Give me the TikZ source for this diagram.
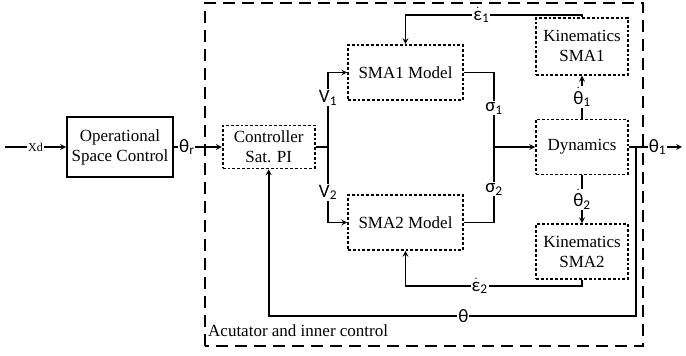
\documentclass[tikz,border=0pt]{standalone}
\usepackage{amsmath}
\usepackage{fontspec}
\setmainfont{Liberation Serif}
\newfontfamily\lblfont{Carlito}
\usetikzlibrary{arrows,positioning}
\newcommand{\dotlbl}[1]{$\dot{\text{\lblfont #1}}$}

\begin{document}
\begin{tikzpicture}[
    x=1pt, y=1pt,
    node distance=40pt,
    box/.style={rectangle, draw, line width=1.6pt, dash pattern=on 2.8pt off 2pt, inner sep=0pt, align=center, font=\fontsize{17}{20}\selectfont},
    solidbox/.style={rectangle, draw, line width=1.8pt, inner sep=0pt, align=center, font=\fontsize{17}{20}\selectfont},
    lbl/.style={fill=white, inner sep=1pt, font=\lblfont\fontsize{19}{21}\selectfont},
    line/.style={line width=1.6pt},
    arrow/.style={->, >=stealth, line width=1.6pt}
]
\useasboundingbox (0,0) rectangle (686,356);

% Outer loop
\node[solidbox, minimum width=106pt, minimum height=60pt] (osc) at (120,209) {Operational\\Space Control};
\node[box, minimum width=92pt, minimum height=43pt, right=48pt of osc] (ctrl) {Controller\\Sat. PI};

% SMA models
\node[box, minimum width=115pt, minimum height=55pt] (sma1) at (405.5,283.5) {SMA1 Model};
\node[box, minimum width=115pt, minimum height=55pt] (sma2) at (405.5,133.5) {SMA2 Model};

% Dynamics and kinematics
\node[box, minimum width=92pt, minimum height=55pt] (dyn) at (582,209) {Dynamics};
\node[box, minimum width=92pt, minimum height=57pt, above=43pt of dyn] (kin1) {Kinematics\\SMA1};
\node[box, minimum width=92pt, minimum height=55pt, below=48pt of dyn] (kin2) {Kinematics\\SMA2};

% Junctions
\coordinate (in) at (5,209);
\coordinate (split) at (328,209);
\coordinate (merge) at (494,209);
\coordinate (tap) at (636,209);
\coordinate (out) at (682,209);
\coordinate (etop) at (0,341);
\coordinate (ebot) at (0,70);
\coordinate (fb) at (0,40);

% Arrows
\draw[arrow] (in) -- node[fill=white, inner sep=1pt, font=\fontsize{12}{13}\selectfont]{Xd} (osc);
\draw[arrow] (osc) -- node[lbl, pos=0.27]{θ\textsubscript{r}} (ctrl);
\draw[line] (ctrl.east) -- (split);
\draw[arrow] (split) |- node[lbl, pos=0.33]{V\textsubscript{1}} (sma1.west);
\draw[arrow] (split) |- node[lbl, pos=0.3]{V\textsubscript{2}} (sma2.west);
\draw[line] (sma1.east) -| node[lbl, pos=0.74]{σ\textsubscript{1}} (merge);
\draw[line] (sma2.east) -| node[lbl, pos=0.72]{σ\textsubscript{2}} (merge);
\draw[arrow] (merge) -- (dyn);
\draw[arrow] (dyn) -- node[lbl]{\dotlbl{θ}\textsubscript{1}} (kin1);
\draw[arrow] (dyn) -- node[lbl]{\dotlbl{θ}\textsubscript{2}} (kin2);
\draw[arrow] (kin1.north) -- (kin1.north |- etop) -- node[lbl, pos=0.57]{\dotlbl{ε}\textsubscript{1}} (sma1.north |- etop) -- (sma1.north);
\draw[arrow] (kin2.south) -- (kin2.south |- ebot) -- node[lbl, pos=0.58]{\dotlbl{ε}\textsubscript{2}} (sma2.south |- ebot) -- (sma2.south);
\draw[arrow] (dyn.east) -- node[lbl, pos=0.54]{θ\textsubscript{1}} (out);
\draw[arrow] (tap) -- (tap |- fb) -- node[lbl, pos=0.47]{θ} (ctrl.south |- fb) -- (ctrl.south);

% Actuator block
\draw[line width=1.8pt, dash pattern=on 12pt off 7pt] (205,10) rectangle (643,353);
\node[anchor=base west, inner sep=0pt, font=\fontsize{17}{20}\selectfont] (actlabel) at (208,19) {Acutator and inner control};

\end{tikzpicture}
\end{document}
